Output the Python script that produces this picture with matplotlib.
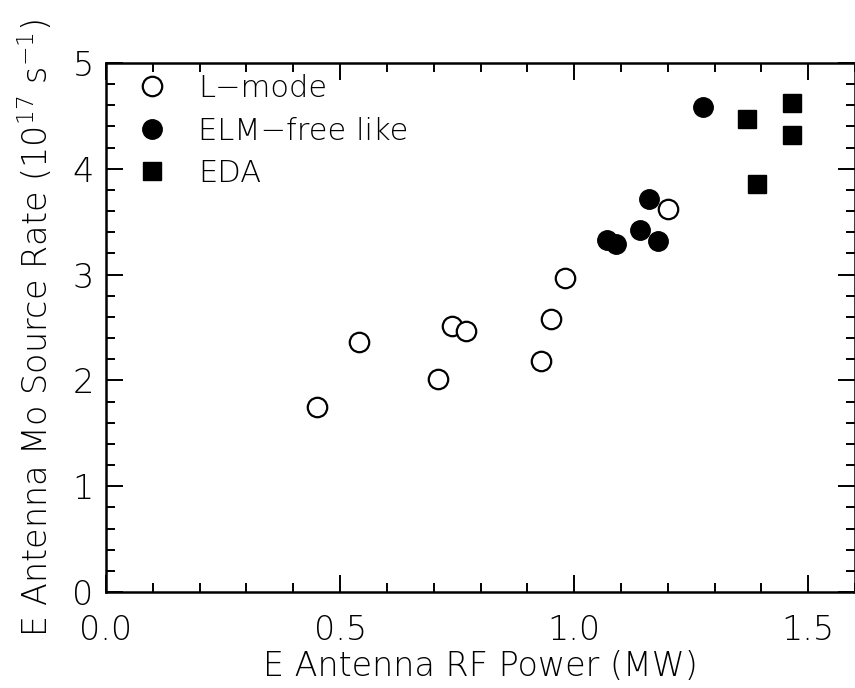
import matplotlib
matplotlib.use("Agg")
import matplotlib.pyplot as plt
from matplotlib.ticker import MultipleLocator

plt.rcParams["font.family"] = ["DejaVu Sans"]
plt.rcParams["font.weight"] = "light"
plt.rcParams["axes.labelweight"] = "light"
plt.rcParams["mathtext.fontset"] = "custom"
plt.rcParams["mathtext.rm"] = "DejaVu Sans:light"
plt.rcParams["mathtext.default"] = "rm"

# E antenna RF power (MW) and Mo source rate (1e17 /s)
lmode_power = [0.45, 0.54, 0.71, 0.74, 0.77, 0.93, 0.95, 0.98, 1.20]
lmode_rate = [1.75, 2.36, 2.01, 2.51, 2.47, 2.18, 2.58, 2.97, 3.62]

elmfree_power = [1.07, 1.09, 1.14, 1.16, 1.18, 1.275]
elmfree_rate = [3.33, 3.29, 3.42, 3.71, 3.32, 4.58]

eda_power = [1.37, 1.465, 1.465, 1.39]
eda_rate = [4.47, 4.62, 4.32, 3.86]

fig = plt.figure(figsize=(8.55, 6.88), dpi=100)
ax = fig.add_axes([106 / 855, 1 - 592 / 688, 749 / 855, 529 / 688])

ax.plot(lmode_power, lmode_rate, "o", ms=14, mfc="white", mec="black",
        mew=1.6, label="L\u2212mode", linestyle="none")
ax.plot(elmfree_power, elmfree_rate, "o", ms=14, mfc="black", mec="black",
        label="ELM\u2212free like", linestyle="none")
ax.plot(eda_power, eda_rate, "s", ms=12.5, mfc="black", mec="black",
        label="EDA", linestyle="none")

ax.set_xlim(0, 1.6)
ax.set_ylim(0, 5)
ax.xaxis.set_major_locator(MultipleLocator(0.5))
ax.xaxis.set_minor_locator(MultipleLocator(0.1))
ax.yaxis.set_major_locator(MultipleLocator(1))
ax.yaxis.set_minor_locator(MultipleLocator(0.2))
ax.xaxis.set_major_formatter(plt.FormatStrFormatter("%.1f"))

ax.tick_params(which="both", direction="in", top=True, right=True,
               labelsize=24, width=1.4, colors="black")
ax.tick_params(axis="x", which="major", length=12, pad=16)
ax.tick_params(axis="y", which="major", length=12, pad=9)
ax.tick_params(which="minor", length=6.5)
for s in ax.spines.values():
    s.set_linewidth(1.8)

ax.set_xlabel("E Antenna RF Power (MW)", fontsize=24, labelpad=2)
ax.set_ylabel("E Antenna Mo Source Rate (10$^{17}$ s$^{-1}$)", fontsize=24,
              labelpad=12)

ax.legend(loc="upper left", bbox_to_anchor=(0.041, 0.979), frameon=False,
          fontsize=22, handletextpad=1.0, labelspacing=0.44,
          borderaxespad=0, borderpad=0, handlelength=1.0)

fig.savefig("out.png", dpi=100)
